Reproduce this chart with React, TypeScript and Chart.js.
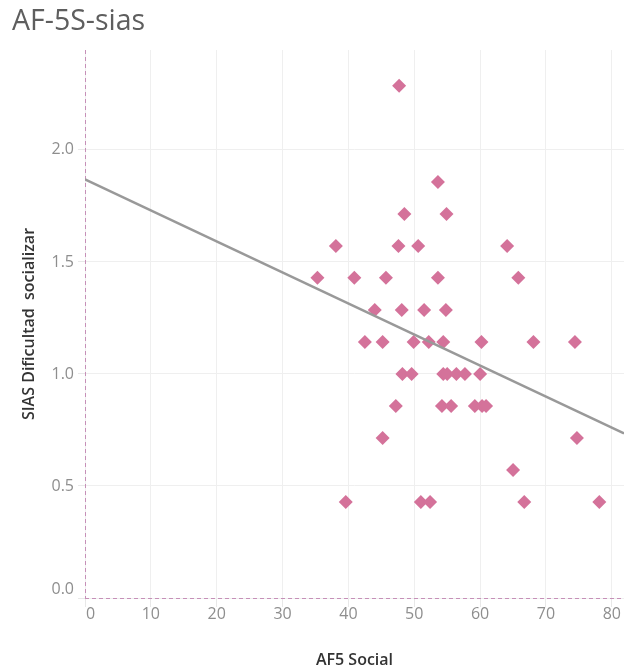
import React, { useEffect, useRef } from 'react';
import { Chart, registerables } from 'chart.js';

Chart.register(...registerables);

const chartTitle = 'AF-5S-sias';
const xAxisTitle = 'AF5 Social';
const yAxisTitle = 'SIAS Dificultad  socializar';

// AF5 Social (x) and SIAS Dificultad socializar (y), one entry per respondent
const afSocial: number[] = [
  47.7,
  53.6,
  48.5, 54.9,
  38.1, 47.6, 50.6, 64.1,
  35.3, 40.9, 45.7, 53.6, 65.8,
  44.0, 48.1, 51.5, 54.8,
  42.5, 45.2, 49.9, 52.2, 54.4, 60.2, 68.1, 74.4,
  48.2, 49.6, 54.4, 55.0, 56.4, 57.7, 60.0,
  47.2, 54.2, 55.6, 59.2, 60.3, 60.9,
  45.2, 74.7,
  65.0,
  39.6, 51.0, 52.4, 66.7, 78.1,
];
const siasDificultad: number[] = [
  2.286,
  1.857,
  1.714, 1.714,
  1.571, 1.571, 1.571, 1.571,
  1.429, 1.429, 1.429, 1.429, 1.429,
  1.286, 1.286, 1.286, 1.286,
  1.143, 1.143, 1.143, 1.143, 1.143, 1.143, 1.143, 1.143,
  1.0, 1.0, 1.0, 1.0, 1.0, 1.0, 1.0,
  0.857, 0.857, 0.857, 0.857, 0.857, 0.857,
  0.714, 0.714,
  0.571,
  0.429, 0.429, 0.429, 0.429, 0.429,
];

// trend line end points
const trendX: number[] = [0, 81.85];
const trendY: number[] = [1.869, 0.735];

const xTicks: number[] = [0, 10, 20, 30, 40, 50, 60, 70, 80];
const yTicks: number[] = [0, 0.5, 1.0, 1.5, 2.0];

const FONT = '"Open Sans", "DejaVu Sans", sans-serif';

const titlePlugin = {
  id: 'sheetTitle',
  afterDraw(chart: any) {
    const { ctx } = chart;
    ctx.save();
    ctx.font = `400 28.5px ${FONT}`;
    ctx.fillStyle = '#5e5e5e';
    ctx.textAlign = 'left';
    ctx.textBaseline = 'alphabetic';
    ctx.fillText(chartTitle, 12, 29.5);
    ctx.restore();
  },
};

const zeroLinePlugin = {
  id: 'zeroLines',
  beforeDatasetsDraw(chart: any) {
    const { ctx, chartArea } = chart;
    const xs = chart.scales.x;
    const ys = chart.scales.y;
    const x0 = Math.round(xs.getPixelForValue(0)) + 0.5;
    const y0 = Math.round(ys.getPixelForValue(0)) + 0.5;
    ctx.save();
    ctx.strokeStyle = '#c690b8';
    ctx.lineWidth = 1;
    ctx.setLineDash([4, 3]);
    ctx.beginPath();
    ctx.moveTo(x0, chartArea.top);
    ctx.lineTo(x0, chartArea.bottom);
    ctx.moveTo(chartArea.left, y0);
    ctx.lineTo(chartArea.right, y0);
    ctx.stroke();
    ctx.restore();
  },
};

const tickLabelPlugin = {
  id: 'edgeTickLabels',
  afterDraw(chart: any) {
    const { ctx, chartArea } = chart;
    const xs = chart.scales.x;
    const ys = chart.scales.y;
    ctx.save();
    ctx.font = `16px ${FONT}`;
    ctx.fillStyle = '#8e8e8e';
    ctx.textBaseline = 'middle';
    ctx.textAlign = 'center';
    xTicks.forEach((v) => {
      const label = String(v);
      const w = ctx.measureText(label).width;
      let px = xs.getPixelForValue(v);
      px = Math.max(chartArea.left + w / 2 + 1, Math.min(chartArea.right - w / 2, px));
      ctx.fillText(label, px, chartArea.bottom + 16);
    });
    ctx.textAlign = 'right';
    yTicks.forEach((v) => {
      const label = v.toFixed(1);
      let py = ys.getPixelForValue(v);
      py = Math.max(chartArea.top + 8, Math.min(chartArea.bottom - 9, py));
      ctx.fillText(label, chartArea.left - 11, py);
    });
    ctx.restore();
  },
};

export default function App() {
  const ref = useRef<HTMLCanvasElement | null>(null);

  useEffect(() => {
    document.body.style.margin = '0';
    const points = afSocial.map((x, i) => ({ x, y: siasDificultad[i] }));
    const trend = trendX.map((x, i) => ({ x, y: trendY[i] }));
    const chart = new Chart(ref.current as HTMLCanvasElement, {
      type: 'scatter',
      data: {
        datasets: [
          {
            type: 'line',
            data: trend,
            borderColor: '#999999',
            borderWidth: 2.5,
            pointRadius: 0,
            fill: false,
            order: 1,
          } as any,
          {
            data: points,
            pointStyle: 'rectRot',
            pointRadius: 7,
            pointHoverRadius: 7,
            backgroundColor: '#d4729a',
            borderWidth: 0,
            order: 2,
          },
        ],
      },
      options: {
        responsive: false,
        animation: false,
        layout: { autoPadding: false, padding: { top: 50, left: 0, right: 0, bottom: 0 } },
        plugins: {
          legend: { display: false },
          tooltip: { enabled: false },
        },
        scales: {
          x: {
            type: 'linear',
            min: 0,
            max: 81.85,
            afterFit: (s: any) => { s.height = 72; },
            ticks: { display: false, stepSize: 10, includeBounds: false },
            grid: { color: '#efefef', tickColor: '#e8e8e8', tickLength: 9, drawTicks: true },
            border: { display: false },
            title: {
              display: true,
              text: xAxisTitle,
              color: '#333333',
              font: { family: FONT, size: 16, weight: '600' },
              padding: { top: 2.4, bottom: 0 },
            },
          },
          y: {
            type: 'linear',
            min: 0,
            max: 2.446,
            afterFit: (s: any) => { s.width = 85; },
            ticks: { display: false, stepSize: 0.5, includeBounds: false },
            grid: { color: '#efefef', tickColor: '#e8e8e8', tickLength: 7, drawTicks: true },
            border: { display: false },
            title: {
              display: true,
              text: yAxisTitle,
              color: '#333333',
              font: { family: FONT, size: 16, weight: '600' },
              padding: { top: 19.4, bottom: 0 },
            },
          },
        },
      },
      plugins: [titlePlugin, zeroLinePlugin, tickLabelPlugin],
    });
    return () => chart.destroy();
  }, []);

  return (
    <div style={{ width: 624, height: 670 }}>
      <canvas ref={ref} width={624} height={670} />
    </div>
  );
}
